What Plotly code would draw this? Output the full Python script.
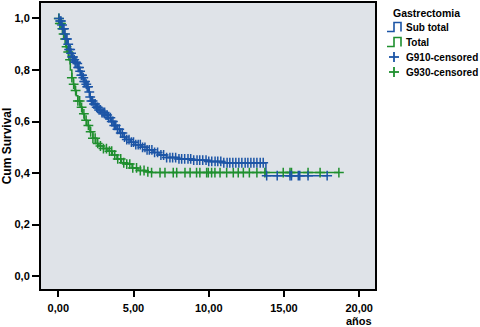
import numpy as np
import plotly.graph_objects as go

# ---- data ----
sub_t = [0, 0.1, 0.2, 0.3, 0.4, 0.5, 0.6, 0.7, 0.8, 0.9, 1.0, 1.1, 1.2, 1.3, 1.4, 1.5, 1.6, 1.7, 1.8, 1.9,
         2.0, 2.1, 2.2, 2.35, 2.5, 2.7, 2.9, 3.1, 3.3, 3.5, 3.7, 3.9, 4.1, 4.3, 4.5, 4.8, 5.1, 5.5, 5.9,
         6.3, 6.7, 7.2, 8.0, 9.0, 10.0, 11.0, 13.8]
sub_s = [1.0, 0.99, 0.975, 0.96, 0.94, 0.92, 0.90, 0.88, 0.865, 0.85, 0.84, 0.83, 0.825, 0.81, 0.795, 0.78,
         0.77, 0.755, 0.745, 0.735, 0.715, 0.695, 0.68, 0.668, 0.655, 0.645, 0.635, 0.625, 0.615, 0.60, 0.585,
         0.57, 0.555, 0.54, 0.53, 0.52, 0.51, 0.50, 0.49, 0.48, 0.47, 0.46, 0.455, 0.45, 0.445, 0.44, 0.39]
sub_cens = [0.05, 0.12, 0.18, 0.25, 0.31, 0.38, 0.45, 0.52, 0.58, 0.66, 0.72, 0.79, 0.85, 0.92, 0.98, 1.06,
            1.12, 1.18, 1.26, 1.32, 1.38, 1.45, 1.53, 1.58, 1.66, 1.72, 1.78, 1.86, 1.92, 1.98, 2.06, 2.12,
            2.2, 2.28, 2.37, 2.45, 2.55, 2.62, 2.71, 2.8, 2.9, 2.98, 3.08, 3.17, 3.25, 3.35, 3.46, 3.55, 3.63,
            3.72, 3.82, 3.93, 4.05, 4.15, 4.26, 4.4, 4.55, 4.7, 4.86, 5.0, 5.15, 5.31, 5.45, 5.6, 5.76, 5.9,
            6.05, 6.22, 6.4, 6.6, 6.82, 7.0, 7.2, 7.42, 7.6, 7.8, 8.02, 8.2, 8.4, 8.62, 8.8, 9.0, 9.22, 9.4,
            9.6, 9.82, 10.0, 10.2, 10.42, 10.6, 10.8, 11.0, 11.22, 11.4, 11.6, 11.8, 12.0, 12.2, 12.42, 12.6,
            12.8, 13.0, 13.2, 13.42, 13.62, 13.85, 14.55, 15.4, 15.5, 15.95, 16.05, 16.6, 17.87]

tot_t = [0, 0.1, 0.2, 0.3, 0.4, 0.5, 0.6, 0.7, 0.8, 0.9, 1.0, 1.1, 1.2, 1.3, 1.45, 1.6, 1.75, 1.9, 2.1,
         2.3, 2.5, 2.7, 3.0, 3.3, 3.6, 3.9, 4.2, 4.5, 4.9, 5.3, 5.8, 6.2]
tot_s = [1.0, 0.98, 0.96, 0.94, 0.92, 0.89, 0.87, 0.84, 0.80, 0.77, 0.745, 0.72, 0.70, 0.68, 0.655, 0.63,
         0.605, 0.585, 0.56, 0.535, 0.515, 0.505, 0.495, 0.485, 0.47, 0.455, 0.44, 0.435, 0.42, 0.41, 0.405,
         0.402]
tot_cens = [0.03, 0.1, 0.18, 0.27, 0.35, 0.45, 0.55, 0.66, 0.78, 0.9, 1.02, 1.15, 1.3, 1.42, 1.55, 1.7,
            1.85, 2.0, 2.15, 2.3, 2.45, 2.62, 2.8, 3.0, 3.2, 3.4, 3.55, 3.75, 3.95, 4.15, 4.35, 4.55, 4.75,
            4.95, 5.2, 5.45, 5.7, 5.95, 6.2, 6.76, 7.09, 7.64, 7.87, 8.42, 8.76, 9.19, 9.41, 9.86, 9.97,
            10.19, 10.41, 10.75, 11.19, 11.63, 11.96, 12.3, 12.7, 13.2, 13.73, 14.95, 15.4, 15.5, 16.6,
            17.4, 18.65]

x_ticks = [0, 5, 10, 15, 20]
x_labels = ["0,00", "5,00", "10,00", "15,00", "20,00"]
y_ticks = [0.0, 0.2, 0.4, 0.6, 0.8, 1.0]
y_labels = ["0,0", "0,2", "0,4", "0,6", "0,8", "1,0"]

BLUE = "#1c55a6"
GREEN = "#1f8f2e"
FONT = "Liberation Sans, Arial, sans-serif"


def km_at(times, surv, pts):
    idx = np.searchsorted(np.array(times), np.array(pts), side="right") - 1
    return [surv[i] for i in idx]


fig = go.Figure()
for t, s, c, col in [(sub_t, sub_s, sub_cens, BLUE), (tot_t, tot_s, tot_cens, GREEN)]:
    xs = list(t) + [max(c)]
    ys = list(s) + [s[-1]]
    fig.add_trace(go.Scatter(x=xs, y=ys, mode="lines", line=dict(shape="hv", color=col, width=1.5),
                             showlegend=False, hoverinfo="skip"))
for t, s, c, col in [(tot_t, tot_s, tot_cens, GREEN), (sub_t, sub_s, sub_cens, BLUE)]:
    fig.add_trace(go.Scatter(x=c, y=km_at(t, s, c), mode="markers",
                             marker=dict(symbol="cross-thin", size=7, line=dict(color=col, width=1.5)),
                             showlegend=False))

L, R, T, B = 41, 375, 3, 289


def px(x):
    return (x - L) / (R - L)


def py(y):
    return (B - y) / (B - T)


LEG = 10
anns = [dict(text="<b>Gastrectomia</b>", x=px(391), y=py(12.5), xanchor="left",
             font=dict(family=FONT, size=10.5, color="black"))]
shapes = []
legend_items = [("Sub total", 27, BLUE, "step"), ("Total", 42, GREEN, "step"),
                ("G910-censored", 57, BLUE, "plus"), ("G930-censored", 72, GREEN, "plus")]
for label, yc, col, kind in legend_items:
    anns.append(dict(text="<b>" + label + "</b>", x=px(404), y=py(yc), xanchor="left",
                     font=dict(family=FONT, size=LEG, color="black")))
    if kind == "step":
        pts = [(387, yc + 4.5), (394, yc + 4.5), (394, yc - 4.5), (401, yc - 4.5), (401, yc + 4.5)]
        path = "M " + " L ".join(f"{px(a):.5f},{py(b):.5f}" for a, b in pts)
        shapes.append(dict(type="path", xref="paper", yref="paper", path=path,
                           line=dict(color=col, width=1.6)))
    else:
        shapes.append(dict(type="line", xref="paper", yref="paper", x0=px(389), x1=px(399),
                           y0=py(yc), y1=py(yc), line=dict(color=col, width=1.8)))
        shapes.append(dict(type="line", xref="paper", yref="paper", x0=px(394), x1=px(394),
                           y0=py(yc - 5), y1=py(yc + 5), line=dict(color=col, width=1.8)))
for a in anns:
    a.update(xref="paper", yref="paper", yanchor="middle", showarrow=False)
anns.append(dict(text="<b>años</b>", x=px(359), y=py(321), xref="paper", yref="paper",
                 xanchor="center", yanchor="middle", showarrow=False,
                 font=dict(family=FONT, size=11, color="black")))

fig.update_layout(
    width=480, height=327, margin=dict(l=L, r=480 - R, t=T, b=327 - B),
    paper_bgcolor="white", plot_bgcolor="#dfe3e8",
    font=dict(family=FONT, size=11, color="black"),
    annotations=anns, shapes=shapes, showlegend=False,
    xaxis=dict(range=[-1.15, 21.05], tickvals=x_ticks, ticktext=["<b>%s</b>" % s for s in x_labels],
               ticks="outside", ticklen=6, tickwidth=1.5, tickcolor="black", showgrid=False,
               zeroline=False, showline=True, mirror=True, linecolor="black", linewidth=2,
               automargin=False, ticklabelstandoff=2),
    yaxis=dict(range=[-0.05, 1.06], tickvals=y_ticks, ticktext=["<b>%s</b>" % s for s in y_labels],
               ticks="outside", ticklen=7, tickwidth=1.5, tickcolor="black", showgrid=False,
               zeroline=False, showline=True, mirror=True, linecolor="black", linewidth=2,
               automargin=False, ticklabelstandoff=0,
               title=dict(text="<b>Cum Survival</b>", standoff=6, font=dict(size=12))),
)
fig.write_html("out.html", config={"displayModeBar": False},
               post_script="document.body.style.margin='0';")
